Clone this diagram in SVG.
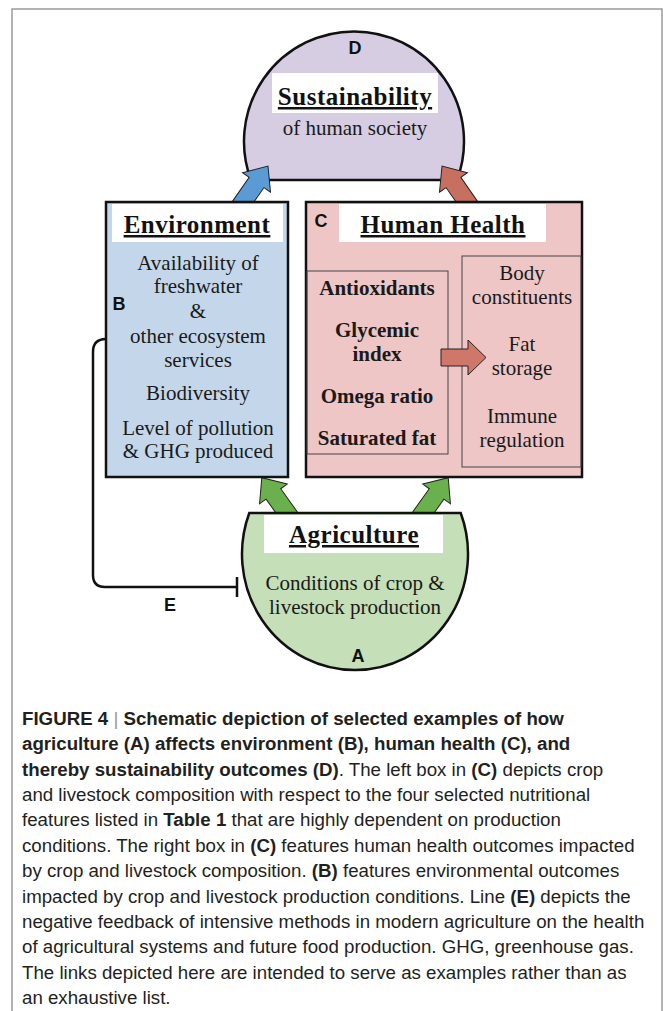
<svg xmlns="http://www.w3.org/2000/svg" width="663" height="1011" viewBox="0 0 663 1011">
<style>
.lbl{font-family:"Liberation Sans",Arial,sans-serif;font-weight:bold;font-size:18px;fill:#111;text-anchor:middle}
.ttl{font-family:"Liberation Serif","Times New Roman",serif;font-weight:bold;font-size:25px;letter-spacing:0.5px;fill:#111;text-anchor:middle;text-decoration:underline}
.body{font-family:"Liberation Serif","Times New Roman",serif;font-size:21px;fill:#1a1a1a;text-anchor:middle}
.bodyb{font-family:"Liberation Serif","Times New Roman",serif;font-size:21px;font-weight:bold;fill:#1a1a1a;text-anchor:middle}
.box{stroke:#111;stroke-width:2.5}
.inner{fill:none;stroke:#444;stroke-width:1}
.arr{stroke:#222;stroke-width:1}
.cap{font-family:"Liberation Sans",Arial,sans-serif;font-size:18.7px;fill:#231f20}
.b{font-weight:bold}
</style>
<rect width="663" height="1011" fill="#fff"/>
<path d="M12,1011 V9 H662 V1011" fill="none" stroke="#9a9a9a" stroke-width="1.5"/>

<g id="node-D">
<path d="M251,180 A110,110 0 1 1 457,180 Z" fill="#d6cde2" class="box" stroke-width="2"/>
<text class="lbl" x="355" y="54">D</text>
<rect x="272" y="73" width="166" height="40" fill="#fff"/>
<text class="ttl" x="355" y="105">Sustainability</text>
<text class="body" x="355" y="135" font-size="24">of human society</text>
</g>

<g id="connectors">
<path class="arr" fill="#5b9bd5" transform="translate(236,212) rotate(-55.2)" d="M0,-9 H36 V-17 L56,0 L36,17 V9 H0 Z"/>
<path class="arr" fill="#c8705f" transform="translate(474,212) rotate(-124.8)" d="M0,-9 H36 V-17 L56,0 L36,17 V9 H0 Z"/>
<path class="arr" fill="#6ab04c" transform="translate(292,520) rotate(-125.5)" d="M0,-9 H32 V-17 L52,0 L32,17 V9 H0 Z"/>
<path class="arr" fill="#6ab04c" transform="translate(418,520) rotate(-54.5)" d="M0,-9 H32 V-17 L52,0 L32,17 V9 H0 Z"/>
<path d="M106,339 Q93,339 93,352 V575 Q93,587 105,587 H237 M237,577 V597" fill="none" stroke="#111" stroke-width="2.5"/>
<text class="lbl" x="170" y="611">E</text>
</g>

<g id="node-B">
<rect class="box" x="106" y="202" width="182" height="275" fill="#c4d7ea"/>
<rect x="112" y="204" width="171" height="38" fill="#fff"/>
<text class="ttl" x="197" y="233">Environment</text>
<text class="lbl" x="119" y="310">B</text>
<text class="body" x="198" y="270">Availability of</text>
<text class="body" x="198" y="293">freshwater</text>
<text class="body" x="198" y="318">&amp;</text>
<text class="body" x="198" y="343">other ecosystem</text>
<text class="body" x="198" y="367">services</text>
<text class="body" x="198" y="400">Biodiversity</text>
<text class="body" x="198" y="435">Level of pollution</text>
<text class="body" x="198" y="458">&amp; GHG produced</text>
</g>

<g id="node-C">
<rect class="box" x="306" y="202" width="276" height="275" fill="#eec6c6"/>
<rect x="339" y="204" width="207" height="38" fill="#fff"/>
<text class="ttl" x="443" y="233">Human Health</text>
<text class="lbl" x="321" y="227">C</text>
<rect class="inner" x="307" y="271" width="141" height="183"/>
<rect class="inner" x="462" y="256" width="119" height="211"/>
<text class="bodyb" x="377" y="295">Antioxidants</text>
<text class="bodyb" x="377" y="337">Glycemic</text>
<text class="bodyb" x="377" y="361">index</text>
<text class="bodyb" x="377" y="403">Omega ratio</text>
<text class="bodyb" x="377" y="445">Saturated fat</text>
<text class="body" x="522" y="280">Body</text>
<text class="body" x="522" y="304">constituents</text>
<text class="body" x="522" y="351">Fat</text>
<text class="body" x="522" y="375">storage</text>
<text class="body" x="522" y="423">Immune</text>
<text class="body" x="522" y="447">regulation</text>
<path class="arr" fill="#cf7768" d="M441,349 H468 V340 L486,357.5 L468,375 V366 H441 Z"/>
</g>

<g id="node-A">
<path d="M249.3,513 A113,116 0 1 0 460.7,513 Z" fill="#c5dfb8" class="box" stroke-width="2"/>
<rect x="264" y="515" width="179" height="38" fill="#fff"/>
<text class="ttl" x="354" y="543">Agriculture</text>
<text class="body" x="355" y="590">Conditions of crop &amp;</text>
<text class="body" x="355" y="614">livestock production</text>
<text class="lbl" x="358" y="662">A</text>
</g>

<g id="caption">
<text class="cap" x="22" y="725"><tspan class="b">FIGURE 4</tspan><tspan fill="#999"> | </tspan><tspan class="b">Schematic depiction of selected examples of how</tspan></text>
<text class="cap b" x="22" y="750.4">agriculture (A) affects environment (B), human health (C), and</text>
<text class="cap" x="22" y="775.7"><tspan class="b">thereby sustainability outcomes (D)</tspan>. The left box in <tspan class="b">(C)</tspan> depicts crop</text>
<text class="cap" x="22" y="801.1">and livestock composition with respect to the four selected nutritional</text>
<text class="cap" x="22" y="826.4">features listed in <tspan class="b">Table 1</tspan> that are highly dependent on production</text>
<text class="cap" x="22" y="851.8">conditions. The right box in <tspan class="b">(C)</tspan> features human health outcomes impacted</text>
<text class="cap" x="22" y="877.2">by crop and livestock composition. <tspan class="b">(B)</tspan> features environmental outcomes</text>
<text class="cap" x="22" y="902.5">impacted by crop and livestock production conditions. Line <tspan class="b">(E)</tspan> depicts the</text>
<text class="cap" x="22" y="927.9">negative feedback of intensive methods in modern agriculture on the health</text>
<text class="cap" x="22" y="953.2">of agricultural systems and future food production. GHG, greenhouse gas.</text>
<text class="cap" x="22" y="978.6">The links depicted here are intended to serve as examples rather than as</text>
<text class="cap" x="22" y="1004">an exhaustive list.</text>
</g>
</svg>
